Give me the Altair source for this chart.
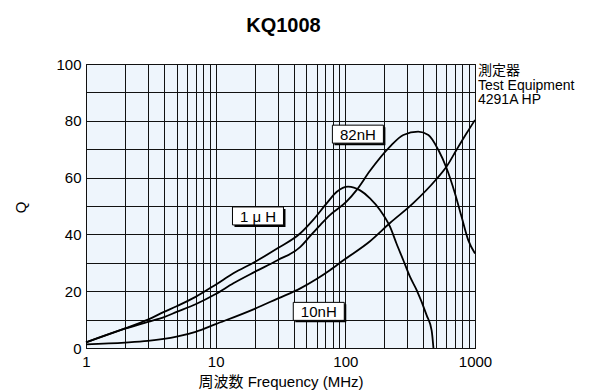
import altair as alt
import pandas as pd

FONT = "Liberation Sans, Noto Sans CJK JP, sans-serif"

# Q versus frequency (MHz) for each inductance value
freq_1uh = [1, 2, 3, 4, 5, 7, 10, 13.7, 20, 30, 45, 56.5, 72, 86, 105, 130, 155, 185, 221, 248, 280, 315, 355, 424, 463, 478]
q_1uh = [2, 6.9, 10, 12.7, 14.7, 18, 22.3, 26.3, 30.3, 35.1, 40.4, 45.1, 51, 55, 56.8, 55.5, 52.7, 48.6, 42.7, 36.8, 30.9, 25.1, 20.4, 11.5, 6.2, 0]

freq_82nh = [1, 2, 3, 4, 5, 7, 10, 13.7, 20, 30, 45, 53, 64, 76, 102, 122, 155, 221, 280, 365, 437, 521, 604, 700, 788, 887, 1000]
q_82nh = [2, 6.8, 9.2, 10.9, 12.7, 15.4, 19, 22.8, 26.8, 30.9, 35.6, 39.2, 43.3, 46.8, 51.5, 55.6, 62.4, 70.9, 75, 76.2, 75, 69.8, 63.3, 54.5, 46.2, 38, 33.3]

freq_10nh = [1, 2, 3, 5, 7, 10, 20, 30, 45, 60, 76, 96, 155, 221, 334, 505, 604, 721, 861, 1000]
q_10nh = [1.3, 1.9, 2.5, 4.0, 5.7, 8.4, 13.8, 17.4, 21, 24.3, 27.4, 30.8, 37.6, 44, 51, 59.5, 63.9, 69.8, 75.6, 80.3]

# Curve labels (boxed) and where they sit
label_text = ["1 μ H", "82nH", "10nH"]
label_freq = [21.2, 125, 62.4]
label_q = [46.5, 75.3, 12.9]

# Grid lines: log decades with minor steps, Q every 10
x_grid = [1, 2, 3, 4, 5, 6, 7, 8, 9,
          10, 20, 30, 40, 50, 60, 70, 80, 90,
          100, 200, 300, 400, 500, 600, 700, 800, 900, 1000]
y_grid = [0, 10, 20, 30, 40, 50, 60, 70, 80, 90, 100]

equipment_lines = ["測定器", "Test Equipment", "4291A HP"]

curves = pd.concat([
    pd.DataFrame({"freq": freq_1uh, "Q": q_1uh, "part": "1uH"}),
    pd.DataFrame({"freq": freq_82nh, "Q": q_82nh, "part": "82nH"}),
    pd.DataFrame({"freq": freq_10nh, "Q": q_10nh, "part": "10nH"}),
], ignore_index=True)
labels = pd.DataFrame({"freq": label_freq, "Q": label_q, "text": label_text})

x_enc = alt.X(
    "freq:Q",
    scale=alt.Scale(type="log", domain=[1, 1000], nice=False),
    title="周波数 Frequency (MHz)",
    axis=alt.Axis(values=x_grid, format="d",
                  labelExpr="(datum.value == 1 || datum.value == 10 || datum.value == 100 || datum.value == 1000) ? datum.label : ''",
                  labelFlush=False, labelOverlap=False, labelPadding=6,
                  titleY=33, titleBaseline="middle"),
)
y_enc = alt.Y(
    "Q:Q",
    scale=alt.Scale(domain=[0, 100], nice=False),
    title="Q",
    axis=alt.Axis(values=y_grid,
                  labelExpr="datum.value % 20 == 0 ? datum.label : ''",
                  labelFlush=False, labelOverlap=False, labelPadding=5,
                  titleX=-66, titleY=143, titleAngle=-90,
                  titleBaseline="middle", titleAlign="center"),
)

lines = alt.Chart(curves).mark_line(
    color="black", strokeWidth=1.8, interpolate="monotone"
).encode(x=x_enc, y=y_enc, detail="part:N")

# Label boxes: a drop shadow under a white, outlined rectangle
box_path = "M-1,-0.353L1,-0.353L1,0.353L-1,0.353Z"
box_size = 51 * 51

shadow = alt.Chart(labels).mark_point(
    shape=box_path, size=box_size, filled=True, color="black", opacity=1,
    xOffset=2, yOffset=2,
).encode(x=x_enc, y=y_enc)

boxes = alt.Chart(labels).mark_point(
    shape=box_path, size=box_size, filled=True, fill="white", stroke="black",
    strokeWidth=1, opacity=1,
).encode(x=x_enc, y=y_enc)

label_marks = alt.Chart(labels).mark_text(
    font=FONT, fontSize=15, color="black", align="center", baseline="middle", dy=1,
).encode(x=x_enc, y=y_enc, text="text:N")

equipment = alt.Chart(pd.DataFrame({"freq": [1000], "Q": [100]})).mark_text(
    text=equipment_lines, font=FONT, fontSize=14, lineHeight=14.5, color="black",
    align="left", baseline="top", dx=3, dy=0,
).encode(x=x_enc, y=y_enc)

chart = alt.layer(lines, shadow, boxes, label_marks, equipment).properties(
    width=389,
    height=284,
    padding={"left": 86, "top": 64, "right": 117, "bottom": 44},
    autosize=alt.AutoSizeParams(type="none"),
    title=alt.TitleParams("KQ1008", font=FONT, fontSize=20, fontWeight="bold",
                          color="black", anchor="middle", offset=21, dx=3),
).configure_view(
    fill="#eef5fc", stroke="black", strokeWidth=1,
).configure_axis(
    grid=True, gridColor="#111111", gridWidth=1, gridOpacity=1,
    ticks=False, domain=False,
    labelFont=FONT, labelFontSize=15, labelColor="black",
    titleFont=FONT, titleFontSize=15, titleColor="black", titleFontWeight="normal",
)

chart.save("out.html", embed_options={"renderer": "svg", "actions": False})
